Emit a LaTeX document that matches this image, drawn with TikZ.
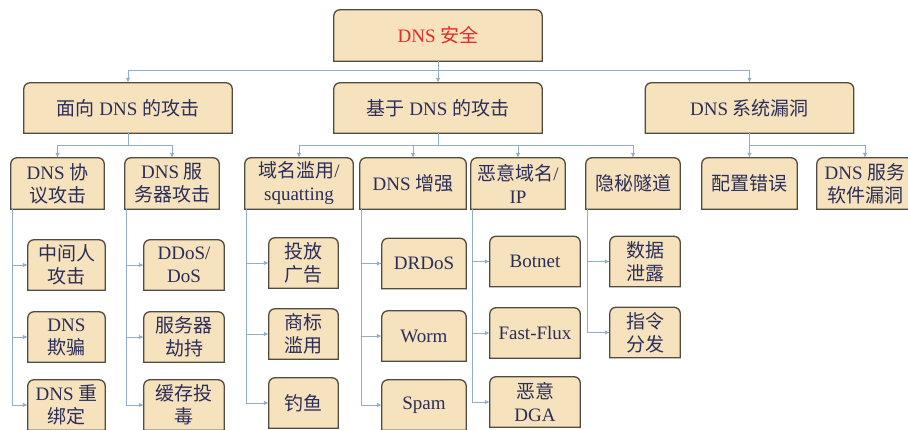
\documentclass[tikz,border=0pt]{standalone}
\usepackage{fontspec}
\setmainfont{Liberation Serif}
\newfontfamily\cjk{Noto Sans CJK SC}
\usetikzlibrary{arrows.meta,backgrounds}
\definecolor{tab_fill}{RGB}{246, 226, 188}
\definecolor{tab_edge}{RGB}{82, 76, 64}
\definecolor{tab_text}{RGB}{42, 46, 90}
\definecolor{dns_red}{RGB}{232, 40, 40}
\definecolor{link_blue}{RGB}{146, 172, 206}
\newcommand{\zh}[1]{{\cjk #1}}
\tikzstyle{tab}=[inner sep=0pt,align=center,text=tab_text,
  font=\fontsize{19}{23}\selectfont]
\tikzstyle{l1}=[style=tab,minimum width=208pt,minimum height=50pt]
\tikzstyle{l2}=[style=tab,minimum height=51pt]
\tikzstyle{l3}=[style=tab,minimum height=50pt]
\tikzstyle{frame}=[fill=tab_fill,draw=tab_edge,line width=1.3pt]
\tikzstyle{lnk}=[draw=link_blue,line width=0.9pt,-{Latex[length=5pt,width=4.5pt]}]
\newcommand{\tabframe}[1]{\filldraw [style=frame] (#1.south west)
  -- ([yshift=-6pt]#1.north west) arc [start angle=180, end angle=90, radius=6pt]
  -- ([xshift=-6pt]#1.north east) arc [start angle=90, end angle=0, radius=6pt]
  -- (#1.south east) -- cycle;}

\begin{document}
\begin{tikzpicture}[x=1pt,y=1pt]
  \useasboundingbox (0,0) rectangle (908,-430);
            \node [style=l1,text=dns_red,minimum height=51pt] (0) at (438,-35.5) {DNS \zh{安全}};
            \node [style=l1] (1) at (128,-108) {\zh{面向} DNS \zh{的攻击}};
            \node [style=l1] (2) at (438,-108) {\zh{基于} DNS \zh{的攻击}};
            \node [style=l1] (3) at (749.5,-108) {DNS \zh{系统漏洞}};
            \node [style=l2,minimum width=93pt] (4) at (57.5,-183.5) {DNS \zh{协}\\\zh{议攻击}};
            \node [style=l2,minimum width=94pt] (5) at (172,-183.5) {DNS \zh{服}\\\zh{务器攻击}};
            \node [style=l2,minimum width=108pt] (6) at (299,-183.5) {\zh{域名滥用}/\\squatting};
            \node [style=l2,minimum width=106pt] (7) at (413,-183.5) {DNS \zh{增强}};
            \node [style=l2,minimum width=94pt] (8) at (518,-183.5) {\zh{恶意域名}/\\IP};
            \node [style=l2,minimum width=94pt] (9) at (633,-183.5) {\zh{隐秘隧道}};
            \node [style=l2,minimum width=95pt] (10) at (749.5,-183.5) {\zh{配置错误}};
            \node [style=l2,minimum width=96pt] (11) at (865,-183.5) {DNS \zh{服务}\\\zh{软件漏洞}};
            \node [style=l3,minimum width=77pt] (12) at (66.5,-265) {\zh{中间人}\\\zh{攻击}};
            \node [style=l3,minimum width=77pt] (13) at (66.5,-337) {DNS\\\zh{欺骗}};
            \node [style=l3,minimum width=77pt] (14) at (66.5,-405) {DNS \zh{重}\\\zh{绑定}};
            \node [style=l3,minimum width=80pt] (15) at (184,-265) {DDoS/\\DoS};
            \node [style=l3,minimum width=80pt] (16) at (184,-337) {\zh{服务器}\\\zh{劫持}};
            \node [style=l3,minimum width=80pt] (17) at (184,-405) {\zh{缓存投}\\\zh{毒}};
            \node [style=l3,minimum width=69pt] (18) at (303.5,-263) {\zh{投放}\\\zh{广告}};
            \node [style=l3,minimum width=69pt] (19) at (303.5,-334) {\zh{商标}\\\zh{滥用}};
            \node [style=l3,minimum width=69pt] (20) at (303.5,-403) {\zh{钓鱼}};
            \node [style=l3,minimum width=84pt] (21) at (424,-263.5) {DRDoS};
            \node [style=l3,minimum width=84pt] (22) at (424,-336) {Worm};
            \node [style=l3,minimum width=84pt] (23) at (424,-405) {Spam};
            \node [style=l3,minimum width=90pt] (24) at (535,-261.5) {Botnet};
            \node [style=l3,minimum width=90pt] (25) at (535,-333) {Fast-Flux};
            \node [style=l3,minimum width=90pt] (26) at (535,-402) {\zh{恶意}\\DGA};
            \node [style=l3,minimum width=70pt] (27) at (645,-261.5) {\zh{数据}\\\zh{泄露}};
            \node [style=l3,minimum width=70pt] (28) at (645,-332.5) {\zh{指令}\\\zh{分发}};
            % boxes: rounded top, square bottom
            \begin{scope}[on background layer]
              \foreach \n in {0,...,28} \tabframe{\n};
            \end{scope}
            \draw [style=lnk] (0.south) -- ++(0,-9) -| (1.north);
            \draw [style=lnk] (0) to (2);
            \draw [style=lnk] (0.south) -- ++(0,-9) -| (3.north);
            \draw [style=lnk] (1.south) -- ++(0,-12) -| (4.north);
            \draw [style=lnk] (1.south) -- ++(0,-12) -| (5.north);
            \draw [style=lnk] (2.south) -- ++(0,-12) -| (6.north);
            \draw [style=lnk] (2.south) -- ++(0,-12) -| (7.north);
            \draw [style=lnk] (2.south) -- ++(0,-12) -| (8.north);
            \draw [style=lnk] (2.south) -- ++(0,-12) -| (9.north);
            \draw [style=lnk] (3) to (10);
            \draw [style=lnk] (3.south) -- ++(0,-12) -| (11.north);
            \draw [style=lnk] ([xshift=1.5pt]4.south west) |- (12.west);
            \draw [style=lnk] ([xshift=1.5pt]4.south west) |- (13.west);
            \draw [style=lnk] ([xshift=1.5pt]4.south west) |- (14.west);
            \draw [style=lnk] ([xshift=1.5pt]5.south west) |- (15.west);
            \draw [style=lnk] ([xshift=1.5pt]5.south west) |- (16.west);
            \draw [style=lnk] ([xshift=1.5pt]5.south west) |- (17.west);
            \draw [style=lnk] ([xshift=1.5pt]6.south west) |- (18.west);
            \draw [style=lnk] ([xshift=1.5pt]6.south west) |- (19.west);
            \draw [style=lnk] ([xshift=1.5pt]6.south west) |- (20.west);
            \draw [style=lnk] ([xshift=1.5pt]7.south west) |- (21.west);
            \draw [style=lnk] ([xshift=1.5pt]7.south west) |- (22.west);
            \draw [style=lnk] ([xshift=1.5pt]7.south west) |- (23.west);
            \draw [style=lnk] ([xshift=1.5pt]8.south west) |- (24.west);
            \draw [style=lnk] ([xshift=1.5pt]8.south west) |- (25.west);
            \draw [style=lnk] ([xshift=1.5pt]8.south west) |- (26.west);
            \draw [style=lnk] ([xshift=1.5pt]9.south west) |- (27.west);
            \draw [style=lnk] ([xshift=1.5pt]9.south west) |- (28.west);
    \end{tikzpicture}
\end{document}
